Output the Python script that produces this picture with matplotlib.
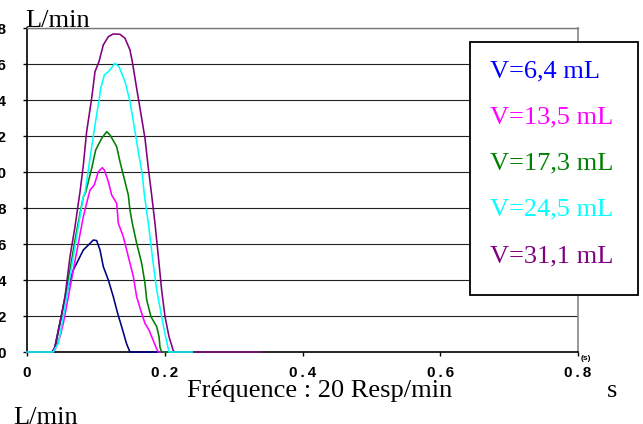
import matplotlib
matplotlib.use("Agg")
import matplotlib.pyplot as plt
from matplotlib.patches import Rectangle

# flow curves (x in s, y in L/min)
blue_x = [0, 0.036, 0.040, 0.0455, 0.0527, 0.060, 0.0673, 0.0745, 0.0818, 0.089, 0.0963,
          0.1011, 0.106, 0.1108, 0.1181, 0.1253, 0.1316, 0.1374, 0.1447, 0.1495, 0.34]
blue_y = [0, 0, 0.2, 1.22, 2.52, 3.63, 4.56, 5.11, 5.67, 5.94, 6.22,
          6.19, 5.67, 4.74, 4.00, 3.07, 2.15, 1.41, 0.44, 0, 0]

magenta_x = [0, 0.038, 0.041, 0.0479, 0.0527, 0.060, 0.0673, 0.0745, 0.0818, 0.089,
             0.0915, 0.0977, 0.1036, 0.1094, 0.1123, 0.1181, 0.1229,
             0.1302, 0.1326, 0.1398, 0.1471, 0.1544, 0.1592, 0.1665, 0.1713, 0.1771,
             0.1834, 0.1883, 0.1907, 0.34]
magenta_y = [0, 0, 0.15, 0.85, 1.59, 3.07, 4.56, 6.04, 7.52, 8.63,
             9.0, 9.28, 10.02, 10.24, 10.11, 9.46, 8.72,
             8.26, 7.15, 6.41, 5.30, 4.19, 3.07, 2.15, 1.59, 1.22,
             0.63, 0.17, 0, 0]

green_x = [0, 0.038, 0.041, 0.0479, 0.0552, 0.0624, 0.0697, 0.0770, 0.0818, 0.085,
           0.0939, 0.0997, 0.1084, 0.1157, 0.1205, 0.1302, 0.135, 0.1423, 0.1471, 0.1495,
           0.1529, 0.1592, 0.1665, 0.1713, 0.1738, 0.180, 0.1883, 0.1917, 0.1931, 0.1955, 0.34]
green_y = [0, 0, 0.3, 1.59, 3.07, 4.56, 6.22, 7.70, 8.63, 8.85,
           10.20, 11.22, 11.87, 12.24, 12.06, 11.41, 10.57, 9.46, 8.72, 7.89,
           7.15, 6.04, 4.93, 3.81, 2.89, 1.96, 1.41, 0.85, 0.26, 0, 0]

cyan_x = [0, 0.038, 0.0455, 0.0527, 0.060, 0.0673, 0.0745, 0.0818, 0.0842, 0.0915,
          0.0987, 0.105, 0.107, 0.1123, 0.1181, 0.1278, 0.1336, 0.1423, 0.1495, 0.1544,
          0.1616, 0.1675, 0.1704, 0.1762, 0.1820, 0.1883, 0.1955, 0.2013, 0.2062, 0.24]
cyan_y = [0, 0, 0.48, 1.96, 3.63, 5.30, 6.96, 8.63, 8.85, 10.76,
          12.61, 14.09, 14.65, 15.39, 15.57, 16.04, 15.85, 15.02, 13.91, 12.80,
          11.13, 9.83, 8.72, 7.15, 5.30, 3.44, 1.96, 0.85, 0, 0]

purple_x = [0, 0.037, 0.0407, 0.0479, 0.0552, 0.0624, 0.0697, 0.0745, 0.0770, 0.0818,
            0.0866, 0.0939, 0.0987, 0.1045, 0.1108, 0.1181, 0.1253, 0.1350, 0.1423, 0.1495,
            0.1529, 0.1592, 0.1665, 0.1713, 0.1762, 0.1810, 0.1858, 0.1907, 0.1955, 0.2004,
            0.2062, 0.2124, 0.2149, 0.34]
purple_y = [0, 0, 0.30, 1.59, 3.07, 5.30, 6.96, 8.26, 8.9, 10.39,
            12.24, 14.09, 15.57, 16.13, 17.06, 17.52, 17.67, 17.65, 17.43, 16.78,
            16.13, 14.65, 12.98, 11.87, 10.20, 8.72, 7.15, 5.30, 3.44, 1.96,
            0.85, 0.07, 0, 0]

labels = ["V=6,4 mL", "V=13,5 mL", "V=17,3 mL", "V=24,5 mL", "V=31,1 mL"]
label_colors = ["#0000ff", "#ff00ff", "#008000", "#00ffff", "#800080"]

y_ticks = [0, 2, 4, 6, 8, 10, 12, 14, 16, 18]
x_ticks = [0, 0.2, 0.4, 0.6, 0.8]
x_tick_labels = ["0", "0\u2009.\u20092", "0\u2009.\u20094", "0\u2009.\u20096", "0\u2009.\u20098"]

W, H = 643, 424
fig = plt.figure(figsize=(W / 100, H / 100), dpi=100)
ax = fig.add_axes([27 / W, 1 - 352 / H, (578 - 27) / W, (352 - 28) / H])

series = [(blue_x, blue_y, "#000080"),
          (magenta_x, magenta_y, "#ff00ff"),
          (green_x, green_y, "#008000"),
          (purple_x, purple_y, "#800080"),
          (cyan_x, cyan_y, "#00ffff")]
for xs, ys, c in series:
    ax.plot(xs, ys, color=c, lw=1.15, clip_on=False, zorder=3)

tick_font = dict(fontsize=11, fontweight="bold", family="Liberation Sans")
ax.set_xlim(0, 0.8)
ax.set_ylim(0, 18)
ax.set_yticks(y_ticks)
ax.set_yticklabels([str(v) for v in y_ticks], **tick_font)
ax.set_xticks(x_ticks)
ax.set_xticklabels(x_tick_labels, **tick_font)
ax.tick_params(axis="y", length=3, width=1, pad=12, color="black")
ax.tick_params(axis="x", length=3, width=1, pad=7, color="black")

for v in y_ticks[1:]:
    ax.axhline(v, color="#222222", lw=0.8, zorder=1)

ax.spines["left"].set_color("black")
ax.spines["bottom"].set_color("black")
ax.spines["left"].set_linewidth(1.2)
ax.spines["bottom"].set_linewidth(1.2)
ax.spines["top"].set_color("#777777")
ax.spines["top"].set_linewidth(1.0)
ax.spines["right"].set_color("#888888")
ax.spines["right"].set_linewidth(1.2)

serif = "Liberation Serif"
fig.text(25 / W, 1 - 27 / H, "L/min", fontsize=19, family=serif, va="baseline")
fig.text(320 / W, 1 - 397 / H, "Fréquence : 20 Resp/min", fontsize=19, family=serif,
         ha="center", va="baseline")
fig.text(607 / W, 1 - 397 / H, "s", fontsize=19, family=serif, va="baseline")
fig.text(13 / W, 1 - 424 / H, "L/min", fontsize=19, family=serif, va="baseline")
fig.text(586 / W, 1 - 359 / H, "(s)", fontsize=6, family="Liberation Sans",
         fontweight="bold", ha="center", va="center")

# legend box
fig.patches.append(Rectangle((470 / W, 1 - 295 / H), (638 - 470) / W, (295 - 42) / H,
                             transform=fig.transFigure, facecolor="white",
                             edgecolor="black", lw=1.3, zorder=5))
for i, (lab, c) in enumerate(zip(labels, label_colors)):
    fig.text(490 / W, 1 - (77 + i * 46.3) / H, lab, color=c, fontsize=19, family=serif,
             va="baseline", zorder=6)

fig.savefig("out.png", dpi=100)
